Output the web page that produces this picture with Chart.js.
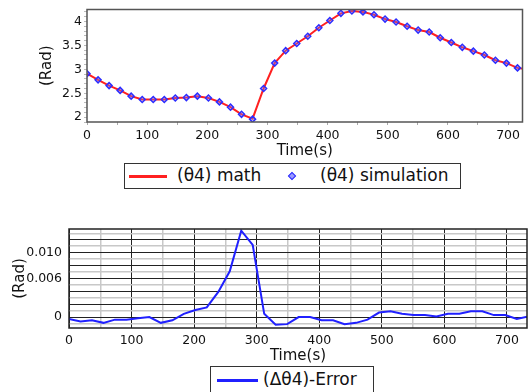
<!DOCTYPE html>
<html>
<head>
<meta charset="utf-8">
<script src="https://cdn.jsdelivr.net/npm/chart.js@4.4.1/dist/chart.umd.min.js"></script>
<style>
body { margin:0; width:528px; height:392px; background:#fff; overflow:hidden; position:relative; font-family:"DejaVu Sans", sans-serif; }
canvas { position:absolute; left:0; }
#thetaChart { top:0; }
#errorChart { top:200px; }
.legend { position:absolute; border:1px solid #333; background:#fff; box-sizing:border-box; font-size:17px; color:#111; }
.legend span { position:absolute; white-space:nowrap; }
.swatch { height:3px; }
.diamond { width:4px; height:4px; border:1.5px solid #2d2dff; background:#9a9aff; transform:rotate(45deg); }
</style>
</head>
<body>
<canvas id="thetaChart" width="528" height="160"></canvas>
<canvas id="errorChart" width="528" height="165"></canvas>

<div class="legend" style="left:124px;top:163px;width:337px;height:26px;">
	<span class="swatch" style="left:4px;top:11px;width:38px;background:#ff2020"></span>
	<span style="left:52px;top:1px">(θ4) math</span>
	<span class="diamond" style="left:164px;top:9px"></span>
	<span style="left:195px;top:1px">(θ4) simulation</span>
</div>
<div class="legend" style="left:210px;top:366px;width:164px;height:27px;">
	<span class="swatch" style="left:6px;top:12px;width:41px;background:#2020ff"></span>
	<span style="left:52px;top:2px">(Δθ4)-Error</span>
</div>

<script>

// time (s) of every sample
const times = [0, 18.4, 36.7, 55.1, 73.4, 91.8, 110.1, 128.5, 146.8, 165.2,
	183.5, 201.9, 220.2, 238.6, 256.9, 275.3, 293.6, 312.0, 330.3, 348.7,
	367.0, 385.4, 403.7, 422.1, 440.4, 458.8, 477.1, 495.5, 513.8, 532.2,
	550.5, 568.9, 587.2, 605.6, 623.9, 642.3, 660.6, 679.0, 697.3, 715.7, 734.0];

const thetaMath = [2.91, 2.78, 2.66, 2.56, 2.44, 2.37, 2.37, 2.37, 2.40, 2.41,
	2.44, 2.40, 2.32, 2.21, 2.06, 1.97, 2.60, 3.13, 3.39, 3.54,
	3.69, 3.87, 4.02, 4.17, 4.22, 4.20, 4.14, 4.05, 3.99, 3.90,
	3.82, 3.78, 3.66, 3.56, 3.46, 3.38, 3.30, 3.19, 3.13, 3.03, 2.99];

const thetaSim = [2.91, 2.78, 2.66, 2.56, 2.44, 2.37, 2.37, 2.37, 2.40, 2.41,
	2.44, 2.40, 2.32, 2.21, 2.06, 1.96, 2.60, 3.13, 3.39, 3.54,
	3.69, 3.87, 4.02, 4.17, 4.22, 4.20, 4.14, 4.05, 3.99, 3.90,
	3.82, 3.78, 3.66, 3.56, 3.46, 3.38, 3.30, 3.19, 3.13, 3.03, 2.99];

const errorData = [-0.0003, -0.0007, -0.0005, -0.0009, -0.0004, -0.0004, -0.0002, 0.0000, -0.0009, -0.0005,
	0.0005, 0.0011, 0.0015, 0.0039, 0.0071, 0.0134, 0.0112, 0.0005, -0.0012, -0.0011,
	0.0000, 0.0000, -0.0005, -0.0005, -0.0011, -0.0009, -0.0004, 0.0007, 0.0009, 0.0005,
	0.0003, 0.0003, 0.0001, 0.0005, 0.0005, 0.0009, 0.0009, 0.0003, 0.0003, -0.0003, 0.0001];

const thetaTicks = [2, 2.5, 3, 3.5, 4];
const errorTicks = [0, 0.006, 0.010];

const tickFont = { family: "DejaVu Sans", size: 12.5 };
const titleFont = { family: "DejaVu Sans", size: 15 };

function points(values) {
	return times.map((t, i) => ({ x: t, y: values[i] }));
}

function isOn(value, list) {
	return list.some((v) => Math.abs(v - value) < 1e-7);
}

// box round the plot area
const framePlugin = {
	id: "frame",
	afterDraw(chart, args, opts) {
		const { ctx, chartArea: a } = chart;
		ctx.save();
		ctx.strokeStyle = opts.color;
		ctx.lineWidth = opts.width;
		ctx.strokeRect(a.left, a.top, a.right - a.left, a.bottom - a.top);
		ctx.restore();
	},
};

Chart.defaults.animation = false;
Chart.defaults.color = "#111";


// THETA CHART

new Chart(document.getElementById("thetaChart"), {
	type: "line",
	plugins: [framePlugin],
	data: {
		datasets: [
			{
				label: "(θ4) simulation",
				data: points(thetaSim),
				showLine: false,
				pointStyle: "rectRot",
				pointRadius: 3,
				pointBorderWidth: 1.5,
				borderColor: "#2d2dff",
				backgroundColor: "rgba(120,120,255,0.35)",
				order: 0,
			},
			{
				label: "(θ4) math",
				data: points(thetaMath),
				borderColor: "#ff2020",
				borderWidth: 2,
				pointRadius: 0,
				order: 1,
			},
		],
	},
	options: {
		responsive: false,
		layout: { padding: { top: 9, right: 1, left: 0, bottom: 0 } },
		plugins: {
			legend: { display: false },
			tooltip: { enabled: false },
			frame: { color: "#555", width: 1.5 },
		},
		scales: {
			x: {
				type: "linear",
				min: 0,
				max: 724,
				afterFit: (s) => { s.height = 38; },
				ticks: {
					stepSize: 50,
					includeBounds: false,
					autoSkip: false,
					maxRotation: 0,
					padding: 3,
					font: tickFont,
					callback: (v) => (v % 100 === 0 ? v : ""),
				},
				grid: { drawOnChartArea: false, tickLength: 3, color: "#aaa" },
				border: { display: false },
				title: { display: true, text: "Time(s)", font: titleFont, padding: { top: 0, bottom: 0 } },
			},
			y: {
				min: 1.9,
				max: 4.25,
				afterFit: (s) => { s.width = 87; },
				ticks: {
					stepSize: 0.1,
					includeBounds: false,
					autoSkip: false,
					padding: 2,
					font: tickFont,
					callback: (v) => (isOn(v, thetaTicks) ? String(Math.round(v * 10) / 10) : ""),
				},
				grid: { drawOnChartArea: false, tickLength: 3, color: "#bbb" },
				border: { display: false },
				title: { display: true, text: "(Rad)", font: titleFont, padding: { top: 38, bottom: 0 } },
			},
		},
	},
});


// ERROR CHART

new Chart(document.getElementById("errorChart"), {
	type: "line",
	plugins: [framePlugin],
	data: {
		datasets: [
			{
				label: "(Δθ4)-Error",
				data: points(errorData),
				borderColor: "#2020ff",
				borderWidth: 2,
				pointRadius: 0,
			},
		],
	},
	options: {
		responsive: false,
		layout: { padding: { top: 29, right: 1, left: 0, bottom: 0 } },
		plugins: {
			legend: { display: false },
			tooltip: { enabled: false },
			frame: { color: "#222", width: 1.5 },
		},
		scales: {
			x: {
				type: "linear",
				min: 0,
				max: 732,
				afterFit: (s) => { s.height = 37; },
				ticks: {
					stepSize: 50,
					includeBounds: false,
					autoSkip: false,
					maxRotation: 0,
					padding: 5,
					font: tickFont,
					callback: (v) => (v % 100 === 0 ? v : ""),
				},
				grid: {
					drawTicks: false,
					color: (c) => (c.tick.value % 100 === 0 ? "#222" : c.tick.value % 50 === 0 ? "#c8c8c8" : "rgba(0,0,0,0)"),
					lineWidth: (c) => (c.tick.value % 100 === 0 ? 1 : 1.5),
				},
				border: { display: false },
				title: { display: true, text: "Time(s)", font: titleFont, padding: { top: 0, bottom: 0 } },
			},
			y: {
				min: -0.0017,
				max: 0.01367,
				afterFit: (s) => { s.width = 69; },
				ticks: {
					stepSize: 0.001,
					includeBounds: false,
					autoSkip: false,
					padding: 7,
					font: tickFont,
					callback: (v) => (isOn(v, errorTicks) ? (Math.abs(v) < 1e-9 ? "0" : v.toFixed(3)) : ""),
				},
				grid: {
					drawTicks: false,
					color: function (c) {
						const k = c.tick.value * 1000;
						if (Math.abs(k - Math.round(k)) > 0.01) return "rgba(0,0,0,0)";
						return Math.round(k) % 2 === 0 ? "#222" : "#c8c8c8";
					},
					lineWidth: (c) => (Math.round(c.tick.value * 1000) % 2 === 0 ? 1 : 1.5),
				},
				border: { display: false },
				title: { display: true, text: "(Rad)", font: titleFont, padding: { top: 11, bottom: 0 } },
			},
		},
	},
});

</script>
</body>
</html>
